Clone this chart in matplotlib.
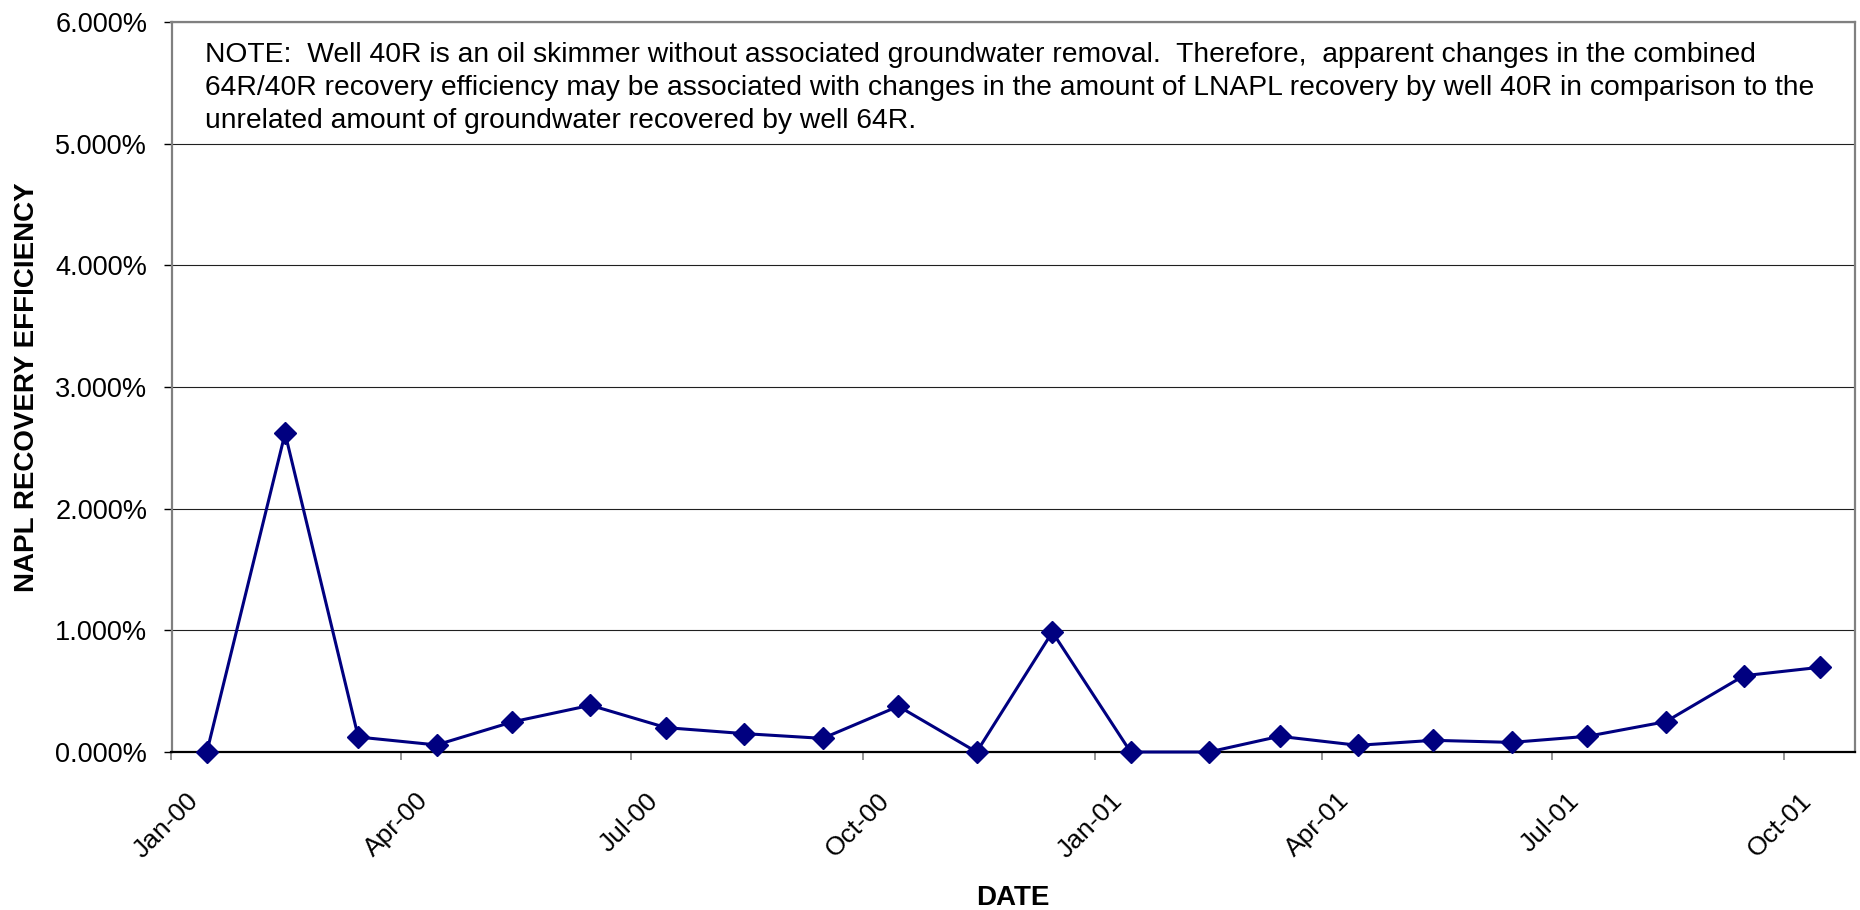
import datetime as dt
import matplotlib
matplotlib.use("Agg")
import matplotlib.pyplot as plt
import matplotlib.dates as mdates
from matplotlib.ticker import FuncFormatter
from matplotlib.transforms import ScaledTranslation

# monthly NAPL recovery efficiency, Jan-00 .. Oct-01 (percent)
months = [(2000, m) for m in range(1, 13)] + [(2001, m) for m in range(1, 11)]
efficiency = [0.000, 2.620, 0.123, 0.058, 0.247, 0.384, 0.200, 0.151, 0.112, 0.376,
              0.000, 0.986, 0.000, 0.000, 0.129, 0.055, 0.096, 0.079, 0.129, 0.249,
              0.627, 0.696]
tick_months = [(2000, 1), (2000, 4), (2000, 7), (2000, 10),
               (2001, 1), (2001, 4), (2001, 7), (2001, 10)]
y_ticks = [0, 1, 2, 3, 4, 5, 6]

note = ("NOTE:  Well 40R is an oil skimmer without associated groundwater removal.  "
        "Therefore,  apparent changes in the combined\n"
        "64R/40R recovery efficiency may be associated with changes in the amount of "
        "LNAPL recovery by well 40R in comparison to the\n"
        "unrelated amount of groundwater recovered by well 64R.")

plt.rcParams['font.family'] = ['Liberation Sans', 'DejaVu Sans']

dates = [dt.date(y, m, 15) for y, m in months]
ticks = [dt.date(y, m, 1) for y, m in tick_months]

W, H, DPI = 1860, 910, 100
fig = plt.figure(figsize=(W / DPI, H / DPI), dpi=DPI)
ax = fig.add_axes([171.5 / W, 1 - 752 / H, (1855 - 171.5) / W, (752 - 22) / H])

ax.plot(dates, efficiency, color='#000080', lw=2.2, marker='D', ms=11,
        mfc='#000080', mec='#000080', zorder=3, clip_on=False)

ax.set_ylim(0, 6)
ax.set_yticks(y_ticks)
ax.yaxis.set_major_formatter(FuncFormatter(lambda v, p: f"{v:.3f}%"))
ax.set_xlim(dt.date(2000, 1, 1), dt.date(2001, 10, 29))
ax.set_xticks(ticks)
ax.xaxis.set_major_formatter(mdates.DateFormatter('%b-%y'))

ax.grid(axis='y', color='#202020', lw=0.8)
ax.set_axisbelow(True)
for side in ['left', 'top', 'right']:
    ax.spines[side].set_color('#808080')
    ax.spines[side].set_linewidth(1.6)
ax.spines['bottom'].set_color('black')
ax.spines['bottom'].set_linewidth(1.6)

ax.tick_params(axis='y', direction='out', length=6, width=1, color='black',
               labelsize=19.5, pad=11.5)
ax.tick_params(axis='x', direction='out', length=6, width=1.2, color='#808080',
               labelsize=19, pad=30)

# Excel puts the rotated labels a little right of the tick
off = ScaledTranslation(28 / DPI, 0, fig.dpi_scale_trans)
for lab in ax.get_xticklabels():
    lab.set_rotation(45)
    lab.set_ha('right')
    lab.set_va('baseline')
    lab.set_rotation_mode('anchor')
    lab.set_transform(lab.get_transform() + off)

fig.text(27 / W, 1 - 387 / H, 'NAPL RECOVERY EFFICIENCY', rotation=90,
         ha='center', va='center', fontsize=20, fontweight='bold')
fig.text(1013 / W, 1 - 905 / H, 'DATE', ha='center', va='baseline',
         fontsize=20, fontweight='bold')
fig.text(205 / W, 1 - 42 / H, note, ha='left', va='top', fontsize=20.3,
         linespacing=1.34)

fig.savefig('out.png', dpi=DPI)
